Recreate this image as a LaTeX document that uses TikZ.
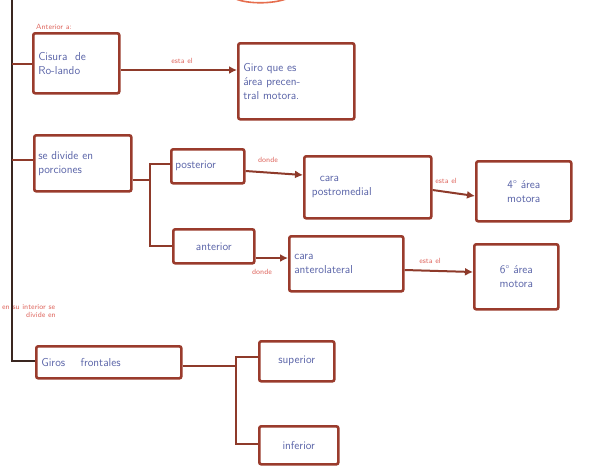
\documentclass[tikz,border=0pt]{standalone}
\usetikzlibrary{arrows.meta}
\definecolor{boxc}{HTML}{9A3B2C}
\definecolor{txtc}{HTML}{5A64A8}
\definecolor{labc}{HTML}{E06A62}
\definecolor{linec}{HTML}{8E3A2A}
\definecolor{mainc}{HTML}{3A2620}
\begin{document}
\begin{tikzpicture}[x=1pt,y=-1pt,
  box/.style={draw=boxc,line width=2.6pt,rounded corners=2pt,text=txtc,font=\sffamily\fontsize{11.5}{14}\selectfont,align=left,inner sep=4pt,anchor=north west},
  lab/.style={text=labc,font=\sffamily\fontsize{7.5}{8.5}\selectfont,inner sep=1pt,align=left},
  conn/.style={draw=linec,line width=2pt},
  arr/.style={conn,-{Latex[length=8pt,width=8pt]}}]
\useasboundingbox (0,0) rectangle (593,475);
\fill[white] (0,0) rectangle (593,475);
% partial shape at top
\draw[draw=labc!80!orange,line width=1.6pt] (236,-1) .. controls (248,4) and (272,4) .. (286,-1);
% boxes
\node[box,minimum width=86,minimum height=60,text width=76] (b1) at (32,32) {Cisura\ \ de\\Ro-lando};
\node[box,minimum width=116,minimum height=76,text width=106] (b2) at (237,42) {Giro que es\\área precen-\\tral motora.};
\node[box,minimum width=97,minimum height=56,text width=89] (b3) at (33,134) {se divide en\\porciones};
\node[box,minimum width=73,minimum height=34,text width=65] (b4) at (170,148) {posterior};
\node[box,minimum width=127,minimum height=62,text width=112] (b5) at (303,155) {\hspace*{8pt}cara\\postromedial};
\node[box,minimum width=95,minimum height=60,text width=85,align=center] (b6) at (475,160) {4° área\\motora};
\node[box,minimum width=81,minimum height=34,text width=71,align=center] (b7) at (172,228) {anterior};
\node[box,minimum width=114,minimum height=55,text width=104] (b8) at (288,235) {cara\\anterolateral};
\node[box,minimum width=84,minimum height=65,text width=74,align=center] (b9) at (473,243) {6° área\\motora};
\node[box,minimum width=145,minimum height=32,text width=135] (b10) at (35,345) {Giros\quad\ frontales};
\node[box,minimum width=75,minimum height=40,text width=67,align=center] (b11) at (258,340) {superior};
\node[box,minimum width=79,minimum height=38,text width=71,align=center] (b12) at (258,425) {inferior};
% labels
\node[lab,anchor=south west] (l1) at (35,31) {Anterior a:};
\node[lab] (l2) at (182,61) {esta el};
\node[lab] (l3) at (268,160) {donde};
\node[lab] (l4) at (446,181) {esta el};
\node[lab] (l5) at (262,272) {donde};
\node[lab] (l6) at (430,261) {esta el};
\node[lab,anchor=north west] (l7) at (1,303) {en su interior se\\\hspace*{24pt}divide en};
% main line
\coordinate (mtop) at (12,0);
\coordinate (mbot) at (12,361);
\coordinate (m1) at (12,64);
\coordinate (m3) at (12,160);
\draw[draw=mainc,line width=2.2pt] (mtop) -- (mbot) -- (b10.west |- mbot);
\draw[conn] (m1) -- (b1.west |- m1);
\draw[conn] (m3) -- (b3.west |- m3);
% arrows
\draw[arr] (b1.east |- 0,70) -- (b2.west |- 0,70);
\coordinate (s3) at (150,180);
\draw[conn] (b3.east |- s3) -- (s3);
\coordinate (s3a) at (150,164);
\coordinate (s3b) at (150,246);
\draw[conn] (b4.west |- s3a) -- (s3a) -- (s3b) -- (b7.west |- s3b);
\draw[arr] (b4.east |- 0,171) -- (b5.west |- 0,175);
\draw[arr] (b5.east |- 0,190) -- (b6.west |- 0,196);
\draw[arr] (b7.east |- 0,258) -- (b8.west |- 0,258);
\draw[arr] (b8.east |- 0,270) -- (b9.west |- 0,272);
\coordinate (s10) at (236,366);
\coordinate (s10a) at (236,357);
\coordinate (s10b) at (236,444);
\draw[conn] (b10.east |- s10) -- (s10);
\draw[conn] (b11.west |- s10a) -- (s10a) -- (s10b) -- (b12.west |- s10b);
\end{tikzpicture}
\end{document}
